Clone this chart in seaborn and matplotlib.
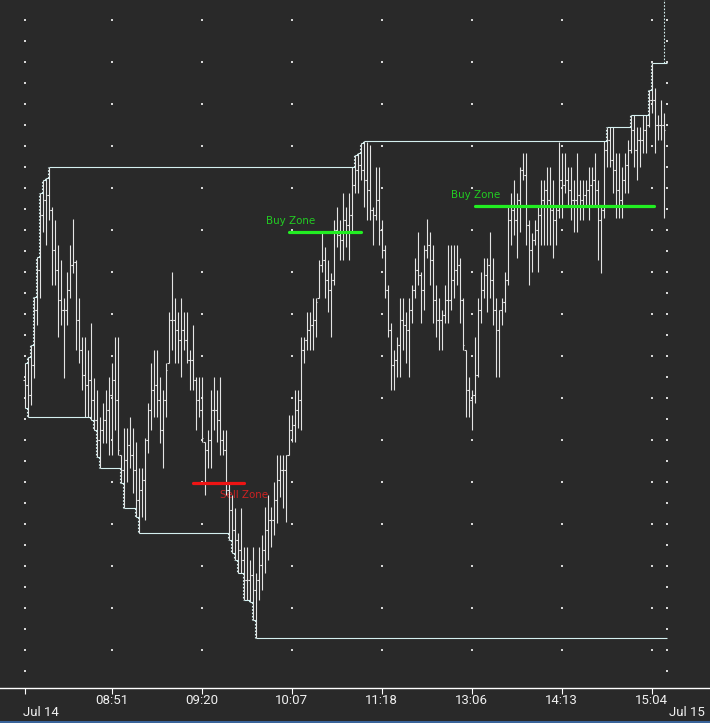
import numpy as np
import pandas as pd
import matplotlib
matplotlib.use('Agg')
import matplotlib.pyplot as plt
import matplotlib.transforms as mtransforms
import seaborn as sns

# bar data (price units, one bar per tick bar)
highs = [337, 343, 355, 403, 443, 507, 520, 522, 533, 493,
         480, 455, 440, 402, 428, 455, 481, 440, 402, 363,
         363, 350, 377, 322, 310, 283, 297, 310, 323, 337,
         363, 363, 245, 272, 272, 283, 272, 258, 232, 232,
         262, 297, 337, 350, 350, 323, 310, 337, 388, 428,
         402, 388, 402, 388, 388, 350, 375, 323, 323, 323,
         258, 270, 310, 323, 310, 323, 270, 270, 218, 205,
         192, 167, 192, 153, 153, 140, 153, 127, 153, 165,
         193, 205, 193, 218, 245, 245, 245, 245, 285, 285,
         310, 310, 363, 363, 388, 388, 402, 402, 440, 467,
         453, 440, 427, 480, 493, 480, 507, 493, 507, 533,
         545, 547, 557, 559, 558, 555, 493, 533, 533, 480,
         455, 415, 377, 350, 363, 402, 402, 388, 402, 415,
         442, 468, 428, 455, 481, 468, 455, 415, 402, 390,
         415, 455, 455, 455, 455, 442, 402, 350, 323, 310,
         363, 402, 428, 442, 442, 468, 442, 402, 390, 402,
         428, 493, 507, 520, 507, 533, 547, 547, 480, 467,
         480, 493, 520, 520, 533, 533, 520, 493, 558, 547,
         547, 533, 533, 520, 547, 520, 520, 520, 533, 533,
         547, 520, 493, 559, 573, 573, 573, 547, 547, 533,
         547, 560, 585, 585, 573, 573, 585, 585, 610, 637,
         612, 585, 600, 587]

lows = [292, 283, 295, 322, 375, 402, 468, 455, 480, 415,
        415, 363, 375, 322, 375, 402, 427, 350, 337, 310,
        283, 283, 280, 270, 243, 232, 257, 257, 245, 245,
        270, 245, 217, 192, 218, 232, 207, 183, 167, 183,
        180, 247, 270, 283, 283, 257, 232, 283, 337, 350,
        337, 337, 323, 350, 337, 310, 310, 270, 283, 258,
        205, 232, 232, 270, 258, 245, 245, 205, 160, 147,
        140, 127, 127, 100, 100, 98, 80, 62, 100, 110,
        127, 140, 153, 165, 177, 203, 192, 178, 245, 258,
        258, 272, 270, 337, 350, 350, 350, 363, 402, 428,
        402, 388, 363, 415, 453, 440, 440, 453, 440, 467,
        507, 507, 520, 493, 480, 480, 455, 480, 455, 442,
        402, 363, 310, 310, 323, 323, 350, 337, 323, 377,
        402, 415, 377, 390, 442, 415, 377, 363, 350, 350,
        377, 377, 390, 402, 415, 377, 350, 283, 283, 270,
        297, 323, 377, 402, 388, 402, 375, 323, 323, 375,
        388, 415, 455, 465, 442, 468, 520, 455, 415, 428,
        455, 428, 455, 455, 455, 455, 442, 455, 482, 482,
        507, 493, 480, 468, 468, 480, 480, 493, 480, 493,
        493, 440, 427, 482, 533, 533, 507, 482, 482, 482,
        507, 507, 547, 533, 520, 533, 547, 547, 573, 587,
        547, 560, 560, 482]

closes = [315, 305, 335, 390, 430, 485, 500, 505, 490, 450,
          430, 400, 390, 390, 410, 435, 438, 380, 350, 325,
          315, 320, 300, 280, 260, 270, 280, 290, 305, 320,
          300, 250, 230, 240, 255, 245, 230, 200, 210, 220,
          260, 290, 310, 315, 300, 270, 300, 330, 380, 380,
          370, 360, 370, 360, 340, 340, 320, 300, 290, 262,
          250, 260, 290, 290, 280, 260, 250, 210, 190, 170,
          160, 150, 140, 120, 120, 125, 110, 120, 135, 150,
          170, 180, 180, 200, 220, 230, 230, 245, 270, 275,
          290, 300, 350, 360, 370, 375, 380, 398, 435, 440,
          420, 410, 420, 470, 465, 460, 480, 475, 485, 515,
          530, 535, 530, 520, 510, 490, 485, 500, 470, 450,
          410, 370, 335, 340, 355, 380, 375, 370, 390, 410,
          430, 425, 410, 450, 455, 440, 400, 380, 380, 385,
          400, 400, 420, 430, 435, 400, 355, 310, 300, 305,
          325, 390, 410, 425, 435, 420, 390, 370, 390, 398,
          420, 480, 490, 480, 500, 530, 525, 475, 450, 460,
          470, 485, 500, 510, 500, 490, 480, 490, 520, 515,
          520, 510, 500, 500, 505, 500, 505, 510, 515, 520,
          510, 480, 490, 550, 560, 540, 530, 510, 500, 520,
          535, 550, 570, 550, 560, 560, 570, 575, 600, 600,
          575, 575, 575, 570]

first_open = 320
offscreen_high = 760

tick_bars = [0, 29, 59, 89, 119, 149, 179, 209]
tick_times = ['', '08:51', '09:20', '10:07', '11:18', '13:06', '14:13', '15:04']
date_labels = ['Jul 14', 'Jul 15']

zone_names = ['Buy Zone', 'Buy Zone', 'Sell Zone']
zone_start = [88.3, 150.0, 56.0]
zone_end = [112.3, 209.7, 73.3]
zone_price = [468, 494, 217]

# styling
bg = '#292929'
bar_color = '#e4e4e4'
env_color = '#d4f0f0'
zone_line = {'Buy Zone': '#22ee22', 'Sell Zone': '#ee1414'}
zone_text = {'Buy Zone': '#22cc22', 'Sell Zone': '#cc2222'}
label_dx = [-7.7, -7.7, 9.0]
label_dy = [11, 10, -12]
axis_font = ['Liberation Sans Narrow', 'Roboto', 'DejaVu Sans']

sns.set_theme(style='dark', rc={'axes.facecolor': bg, 'figure.facecolor': bg})
plt.rcParams['font.family'] = ['DejaVu Sans']

fig = plt.figure(figsize=(7.10, 7.23), dpi=100)
ax = fig.add_axes([0, 35 / 723, 1, 688 / 723])
ax.set_facecolor(bg)

x = np.arange(len(highs))
hi = np.array(highs, dtype=float)
lo = np.array(lows, dtype=float)
cl = np.array(closes, dtype=float)
op = np.clip(np.r_[first_open, cl[:-1]], lo, hi)

# dotted grid
dense_y = np.arange(680, 20, -21)
sparse_y = np.arange(680, 40, -42)
gx, gy = [], []
for col in [tick_bars[0], len(x)]:
    gx += [col] * len(dense_y)
    gy += list(dense_y)
for col in tick_bars[1:]:
    gx += [col] * len(sparse_y)
    gy += list(sparse_y)
grid_df = pd.DataFrame({'bar': gx, 'price': gy})
sns.scatterplot(data=grid_df, x='bar', y='price', marker='s', s=0.8,
                color='#d8d8d8', linewidth=0, ax=ax, zorder=1)

# OHLC bars
ax.vlines(x, lo, hi, colors=bar_color, lw=0.8, zorder=3)
ax.hlines(op, x - 0.45, x, colors=bar_color, lw=0.8, zorder=3)
ax.hlines(cl, x, x + 0.45, colors=bar_color, lw=0.8, zorder=3)

# running high / low channel: flat parts solid, moves dotted
def draw_envelope(level):
    change = np.r_[True, level[1:] != level[:-1]]
    starts = np.flatnonzero(change)
    ends = np.r_[starts[1:], len(level)]
    ax.hlines(level[starts], x[starts], ends, colors=env_color, lw=0.8, zorder=4)
    moved = starts[1:]
    ax.vlines(x[moved] - 0.3, level[moved - 1], level[moved], colors=env_color,
              lw=0.8, linestyles=(0, (1.5, 1.5)), zorder=4)

upper = np.maximum.accumulate(hi)
lower = np.minimum.accumulate(lo)
draw_envelope(upper)
draw_envelope(lower)
ax.vlines(x[-1], upper[-1], offscreen_high, colors=env_color, lw=0.8,
          linestyles=(0, (1.5, 1.5)), zorder=4)

# zones
rows = []
for i, name in enumerate(zone_names):
    rows.append({'zone': i, 'bar': zone_start[i], 'price': zone_price[i]})
    rows.append({'zone': i, 'bar': zone_end[i], 'price': zone_price[i]})
zone_df = pd.DataFrame(rows)
pal = {i: zone_line[n] for i, n in enumerate(zone_names)}
sns.lineplot(data=zone_df, x='bar', y='price', hue='zone', palette=pal,
             estimator=None, sort=False, lw=2.3, legend=False, ax=ax, zorder=5)
for i, name in enumerate(zone_names):
    ax.text(zone_start[i] + label_dx[i], zone_price[i] + label_dy[i], name,
            color=zone_text[name], fontsize=7.4, ha='left', va='center', zorder=2)

# axes
ax.set_xlim(-24.5 / 3, -24.5 / 3 + 710 / 3)
ax.set_ylim(11.5, 699.5)
ax.grid(False)
ax.set_xlabel('')
ax.set_ylabel('')
for side in ['top', 'left', 'right']:
    ax.spines[side].set_visible(False)
ax.spines['bottom'].set_color('white')
ax.spines['bottom'].set_linewidth(1.0)
ax.set_yticks([])
ax.set_xticks(tick_bars, labels=tick_times)
ax.tick_params(axis='x', colors='white', length=4, width=0.8, pad=0.5,
               labelsize=9.5, labelcolor='#f0f0f0', bottom=True)
for lab in ax.get_xticklabels():
    lab.set_family(axis_font)

trans = mtransforms.blended_transform_factory(ax.transData, ax.transAxes)
ax.text(tick_bars[0] - 0.4, -25 / 688, date_labels[0], transform=trans,
        color='#f0f0f0', fontsize=9.5, ha='left', va='center', family=axis_font)
ax.text(len(x) + 0.7, -25 / 688, date_labels[1], transform=trans,
        color='#f0f0f0', fontsize=9.5, ha='left', va='center', family=axis_font)

fig.add_artist(plt.Line2D([0, 1], [0.7 / 723, 0.7 / 723], transform=fig.transFigure,
                          color='#3d6fb0', lw=1.2))

fig.savefig('out.png', dpi=100, facecolor=bg)
